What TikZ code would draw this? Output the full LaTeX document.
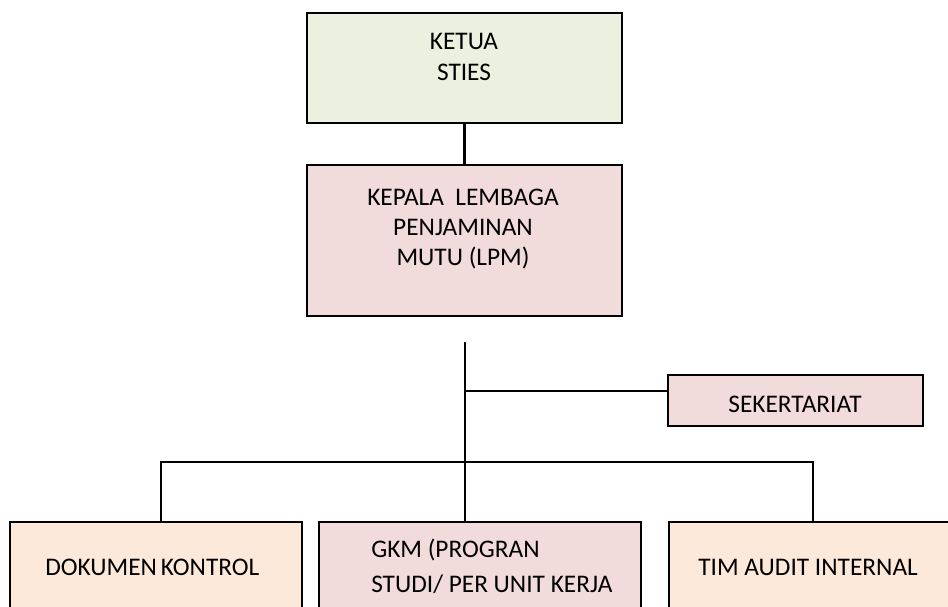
\documentclass[tikz,border=0pt]{standalone}
\usepackage{fontspec}
\setmainfont{Carlito}
\definecolor{boxgreen}{HTML}{EBF1DE}
\definecolor{boxpink}{HTML}{F2DCDB}
\definecolor{boxorange}{HTML}{FDE9D9}
\begin{document}
\begin{tikzpicture}[x=0.75pt,y=-0.75pt,
  box/.style={draw=black,line width=2pt,inner sep=0pt},
  txt/.style={inner sep=0pt,font=\fontsize{19}{23}\selectfont},
  link/.style={draw=black,line width=2pt}]
\useasboundingbox (0,0) rectangle (948,606);
\clip (0,0) rectangle (948,606);
% boxes
\path[box,fill=boxgreen] (307,13) rectangle (622,123);
\node[inner sep=0pt,minimum width=0pt] (ketua) at (464.5,68) {};
\coordinate (ketuaS) at (464.5,123);
\path[box,fill=boxpink] (307,165) rectangle (622,316);
\coordinate (lpmN) at (464.5,165);
\path[box,fill=boxpink] (668,375) rectangle (923,426);
\coordinate (sekW) at (668,391);
\path[box,fill=boxorange] (10,522) rectangle (302,640);
\coordinate (dokN) at (161,522);
\path[box,fill=boxpink] (319,522) rectangle (641,640);
\coordinate (gkmN) at (465,522);
\path[box,fill=boxorange] (669,522) rectangle (960,640);
\coordinate (timN) at (813,522);
% texts
\node[txt,anchor=base] (t1) at (464,50) {KETUA};
\node[txt,anchor=base] (t2) at (464,81) {STIES};
\node[txt,anchor=base] (t3) at (463,205) {KEPALA\ \ LEMBAGA};
\node[txt,anchor=base] (t4) at (463,235) {PENJAMINAN};
\node[txt,anchor=base] (t5) at (463,265) {MUTU (LPM)};
\node[txt,anchor=base] (t6) at (795,412) {SEKERTARIAT};
\node[txt,anchor=base west] (t7) at (45,575) {DOKUMEN\hspace{0.15em}KONTROL};
\node[txt,anchor=base west] (t8) at (371,557) {GKM (PROGRAN};
\node[txt,anchor=base west] (t9) at (371,592) {STUDI/ PER UNIT KERJA};
\node[txt,anchor=base west] (t10) at (698,575) {TIM AUDIT INTERNAL};
% connectors
\coordinate (trunkTop) at (465,342);
\coordinate (sekJ) at (465,391);
\coordinate (busL) at (161,462);
\coordinate (busR) at (813,462);
\draw[link] (ketuaS) -- (lpmN);
\draw[link] (trunkTop) -- (gkmN);
\draw[link] (sekJ) -- (sekW);
\draw[link] (dokN) -- (busL) -- (busR) -- (timN);
\end{tikzpicture}
\end{document}
